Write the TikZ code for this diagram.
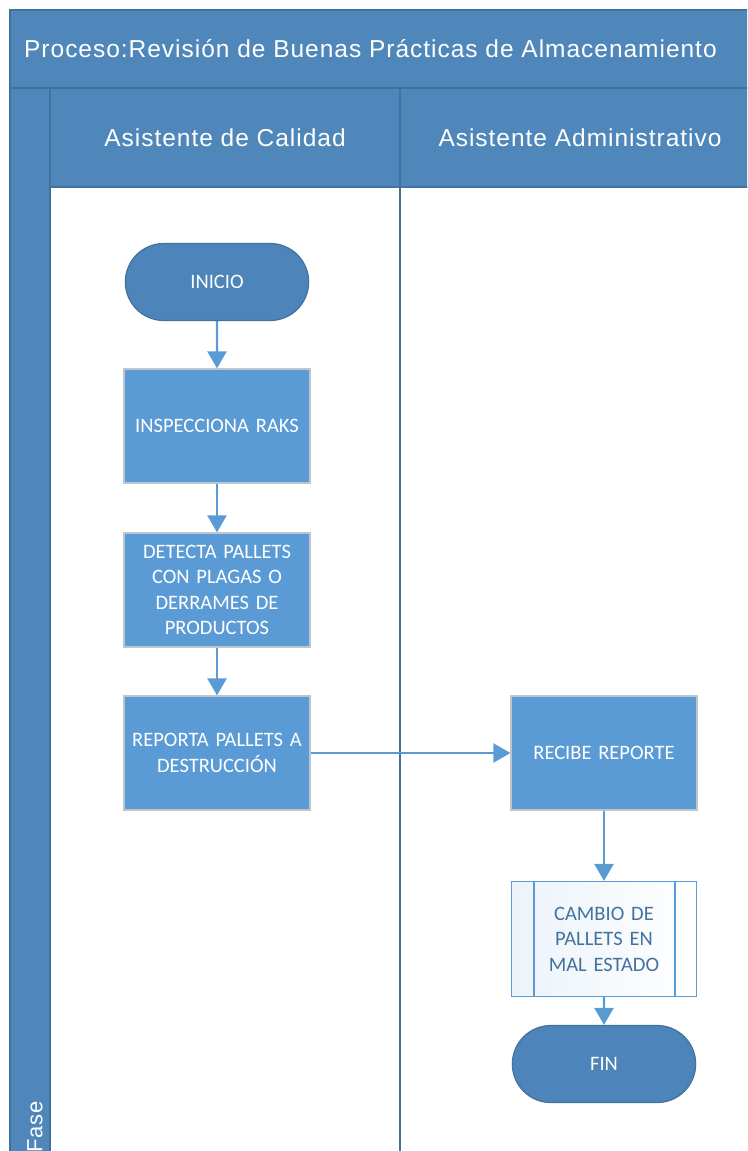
\documentclass[tikz,border=0pt]{standalone}
\usepackage{fontspec}
\setmainfont{Carlito}
\newfontfamily\hdrfont{Liberation Sans}[LetterSpace=4]
\usetikzlibrary{arrows.meta,shapes.misc}
\definecolor{hdr}{HTML}{4F87BA}
\definecolor{hdrline}{HTML}{41719C}
\definecolor{proc}{HTML}{5B9BD5}
\definecolor{term}{HTML}{4D85BA}
\definecolor{procline}{HTML}{BFC5CC}
\definecolor{subtxt}{HTML}{44729F}
\tikzset{
  band/.style={fill=hdr, draw=hdrline, line width=1.2pt},
  boxfont/.style={font=\fontsize{20.5}{25.5}\selectfont},
  process/.style={rectangle, fill=proc, draw=procline, line width=1.2pt, minimum width=186pt, minimum height=114pt, text=white, boxfont, align=center, text width=184pt, inner sep=1pt},
  terminal/.style={rounded rectangle, fill=term, draw=hdrline, line width=1.2pt, minimum width=190pt, minimum height=77pt, text=white, boxfont},
  subproc/.style={rectangle, left color=proc!12, right color=white, draw=proc, line width=1.2pt, minimum width=185pt, minimum height=115pt, text=subtxt, boxfont, align=center, text width=140pt},
  flow/.style={draw=proc, line width=2.4pt, -{Triangle[length=17pt,width=19pt]}},
  hdrtext/.style={text=white, font=\hdrfont\fontsize{24.5}{27}\selectfont}
}
\begin{document}
\begin{tikzpicture}[x=1pt,y=-1pt]
\useasboundingbox (0,0) rectangle (747,1151);
\clip (0,0) rectangle (747,1151);
% title band
\path[band] (10,10) rectangle (760,88);
\node[hdrtext, anchor=west, inner sep=0pt] (title) at (24,49) {Proceso:Revisión de Buenas Prácticas de Almacenamiento};
% phase column
\path[band] (10,88) rectangle (50,1170);
\node[hdrtext, rotate=90, anchor=west, font=\hdrfont\fontsize{22}{24}\selectfont] (fase) at (35,1156) {Fase};
% lane headers
\path[band] (50,88) rectangle (400,187);
\path[band] (400,88) rectangle (760,187);
\node[hdrtext] (lane1) at (225,138) {Asistente de Calidad};
\node[hdrtext] (lane2) at (580,138) {Asistente Administrativo};
% lane divider
\draw[hdrline, line width=2pt] (400,187) -- (400,1170);
% nodes
\node[terminal] (inicio) at (217,282) {INICIO};
\node[process] (insp) at (217,426) {INSPECCIONA RAKS};
\node[process] (detecta) at (217,590) {DETECTA PALLETS\\CON PLAGAS O\\DERRAMES DE\\PRODUCTOS};
\node[process] (reporta) at (217,753) {REPORTA PALLETS A\\DESTRUCCIÓN};
\node[process] (recibe) at (604,753) {RECIBE REPORTE};
\node[subproc] (cambio) at (604,939) {CAMBIO DE\\PALLETS EN\\MAL ESTADO};
\draw[proc, line width=1.2pt] (534,882) -- (534,997) (675,882) -- (675,997);
\node[terminal] (fin) at (604,1064) {FIN};
% connectors
\draw[flow] (inicio) -- (insp);
\draw[flow] (insp) -- (detecta);
\draw[flow] (detecta) -- (reporta);
\draw[flow] (reporta.east |- 0,753) -- (recibe);
\draw[flow] (recibe) -- (cambio);
\draw[flow] (cambio) -- (fin);
\end{tikzpicture}
\end{document}
